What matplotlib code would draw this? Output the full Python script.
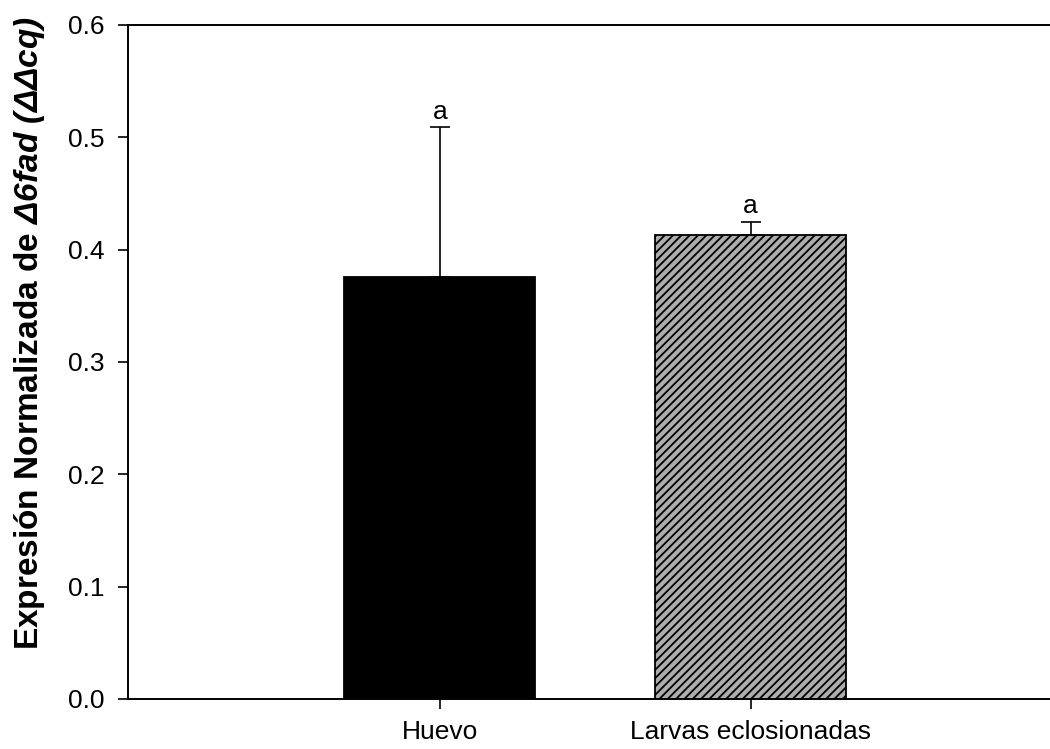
import matplotlib
matplotlib.use("Agg")
import matplotlib.pyplot as plt

plt.rcParams['font.family'] = 'Liberation Sans'
plt.rcParams['mathtext.fontset'] = 'custom'
plt.rcParams['mathtext.rm'] = 'Liberation Sans:bold'
plt.rcParams['mathtext.bf'] = 'Liberation Sans:bold'
plt.rcParams['mathtext.it'] = 'Liberation Sans:italic:bold'
plt.rcParams['mathtext.bfit'] = 'Liberation Sans:italic:bold'
plt.rcParams['hatch.linewidth'] = 1.3

categories = ["Huevo", "Larvas eclosionadas"]
means = [0.376, 0.413]
errors = [0.133, 0.012]
letters = ["a", "a"]
y_ticks = [0.0, 0.1, 0.2, 0.3, 0.4, 0.5, 0.6]

fig = plt.figure(figsize=(10.5, 7.49), dpi=100)
ax = fig.add_axes([128 / 1050, 50 / 749, 922 / 1050, 674 / 749])

x = list(range(len(categories)))
colors = ["black", "#adadad"]
hatches = ["", "////"]
for xi, m, e, c, h in zip(x, means, errors, colors, hatches):
    ax.bar(xi, m, width=0.614, color=c, edgecolor="black", linewidth=1.3,
           hatch=h, zorder=2)
    # only the upper half of the error bar is drawn
    ax.errorbar(xi, m, yerr=[[0], [e]], fmt="none", ecolor="black",
                elinewidth=1.2, capsize=7.5, capthick=1.2, zorder=3)

for xi, m, e, t in zip(x, means, errors, letters):
    ax.text(xi, m + e + 0.003, t, ha="center", va="bottom", fontsize=19)

ax.set_xlim(-1.003, 1.963)
ax.set_ylim(0, 0.6)
ax.set_xticks(x)
ax.set_xticklabels(categories)
ax.set_yticks(y_ticks)
ax.set_yticklabels([f"{v:.1f}" for v in y_ticks])

for s in ["left", "bottom", "top"]:
    ax.spines[s].set_linewidth(1.4)
ax.spines["right"].set_visible(False)
ax.tick_params(axis="both", direction="out", length=7, width=1.2,
               labelsize=19)
ax.tick_params(axis="y", pad=10)
ax.tick_params(axis="x", pad=8)

ax.set_ylabel(r"Expresión Normalizada de $\mathbfit{\Delta 6fad}$ $\mathbfit{(\Delta\Delta cq)}$",
              fontsize=24, fontweight="bold")
ax.yaxis.set_label_coords(-0.088, 0.543)

fig.savefig("out.png", dpi=100)
